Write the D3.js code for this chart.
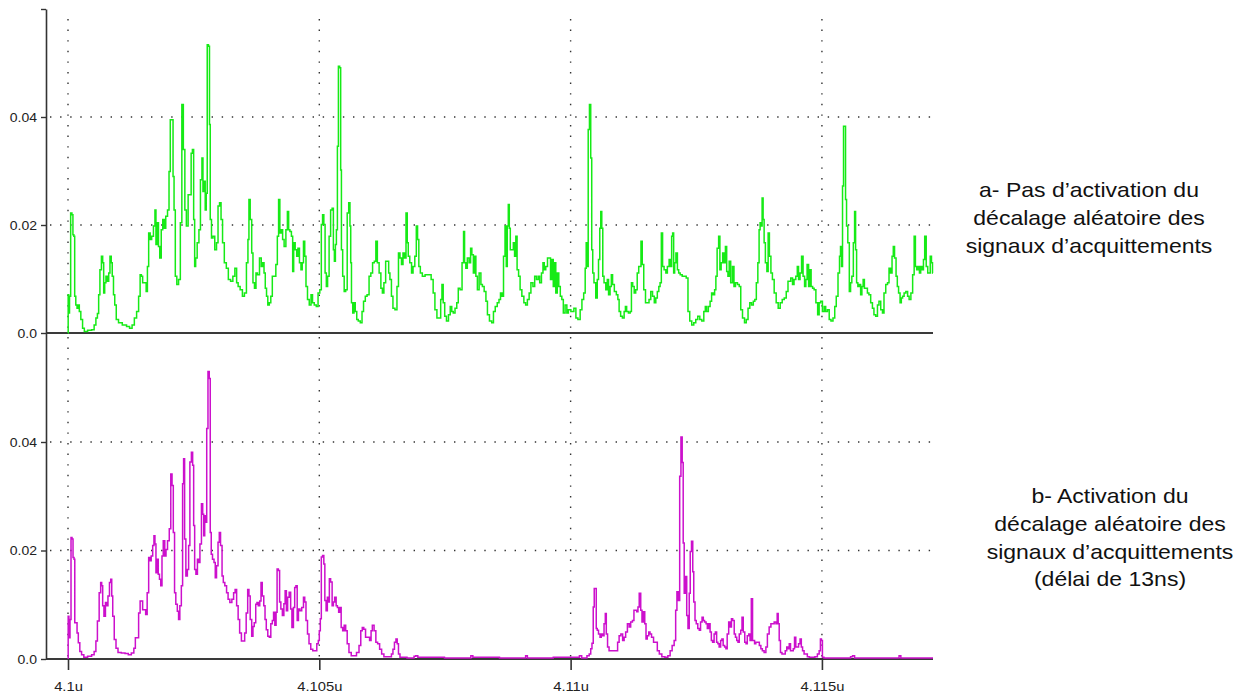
<!DOCTYPE html>
<html>
<head>
<meta charset="utf-8">
<script src="https://cdn.jsdelivr.net/npm/d3@7"></script>
<style>
  html, body { margin: 0; padding: 0; background: #fff; }
  svg { display: block; }
  .axis text { font-family: "Liberation Sans", Arial, Helvetica, sans-serif; font-size: 12.5px; fill: #222; }
  .caption text { font-family: "Liberation Sans", Arial, Helvetica, sans-serif; font-size: 20px; fill: #111; }
</style>
</head>
<body>
<svg id="chart" width="1241" height="696"></svg>
<script>
// Time window: starts at 4.1 µs, offsets of the samples are in ns
const T0 = 4.1e-6;
const SPAN_NS = 17.21;
const xTickValues = [4.1e-6, 4.105e-6, 4.11e-6, 4.115e-6];
const yTickValues = [0, 0.02, 0.04, 0.06];

// a- no random shift of the acknowledge signals: [ns after 4.1u, value]
const seriesA = [
  [0,0],[0.007,.0071],[0.02,.0037],[0.04,.0068],[0.066,.0222],[0.09,.0219],[0.106,.0182],[0.126,.0179],[0.14,.0068],
  [0.17,.0052],[0.19,.0046],[0.21,.0052],[0.24,.0040],[0.27,.0025],[0.31,.0009],[0.34,.0003],[0.44,.0005],[0.50,.0006],
  [0.54,.0015],[0.57,.0028],[0.60,.0036],[0.62,.0071],[0.65,.0117],[0.68,.0142],[0.70,.0130],[0.72,.0074],[0.74,.0093],
  [0.77,.0105],[0.80,.0096],[0.82,.0111],[0.85,.0142],[0.87,.0130],[0.89,.0105],[0.92,.0071],[0.94,.0052],[0.98,.0025],
  [1.03,.0019],[1.13,.0015],[1.20,.0012],[1.25,.0009],[1.30,.0015],[1.34,.0028],[1.39,.0040],[1.42,.0068],[1.45,.0108],
  [1.47,.0105],[1.50,.0093],[1.54,.0093],[1.57,.0077],[1.59,.0123],[1.62,.0185],[1.65,.0173],[1.68,.0179],[1.72,.0198],
  [1.74,.0228],[1.76,.0164],[1.79,.0204],[1.81,.0160],[1.84,.0139],[1.87,.0191],[1.90,.0210],[1.93,.0194],[1.96,.0216],
  [2.00,.0228],[2.02,.0299],[2.05,.0395],[2.08,.0395],[2.10,.0290],[2.12,.0228],[2.15,.0105],[2.18,.0090],[2.22,.0099],
  [2.25,.0204],[2.28,.0423],[2.31,.0340],[2.34,.0228],[2.37,.0198],[2.41,.0256],[2.44,.0256],[2.46,.0333],[2.49,.0340],
  [2.51,.0210],[2.53,.0123],[2.55,.0139],[2.59,.0167],[2.62,.0191],[2.65,.0284],[2.68,.0324],[2.69,.0262],[2.72,.0281],
  [2.74,.0228],[2.76,.0259],[2.78,.0534],[2.81,.0531],[2.82,.0386],[2.84,.0210],[2.87,.0176],[2.90,.0179],[2.94,.0154],
  [2.97,.0167],[3.00,.0235],[3.03,.0241],[3.06,.0210],[3.09,.0167],[3.13,.0130],[3.17,.0120],[3.21,.0099],[3.26,.0096],
  [3.30,.0105],[3.34,.0120],[3.37,.0093],[3.40,.0086],[3.45,.0080],[3.49,.0068],[3.53,.0074],[3.57,.0130],[3.59,.0173],
  [3.61,.0247],[3.64,.0210],[3.67,.0148],[3.69,.0093],[3.73,.0083],[3.75,.0111],[3.79,.0108],[3.83,.0139],[3.86,.0123],
  [3.89,.0130],[3.91,.0111],[3.94,.0083],[3.96,.0068],[3.99,.0052],[4.02,.0056],[4.05,.0068],[4.08,.0105],[4.12,.0105],
  [4.15,.0127],[4.18,.0179],[4.20,.0247],[4.23,.0185],[4.26,.0191],[4.28,.0173],[4.32,.0160],[4.35,.0191],[4.38,.0225],
  [4.40,.0191],[4.43,.0188],[4.46,.0179],[4.48,.0114],[4.50,.0167],[4.54,.0154],[4.56,.0142],[4.59,.0157],[4.62,.0130],
  [4.65,.0117],[4.67,.0130],[4.70,.0170],[4.72,.0142],[4.75,.0086],[4.78,.0062],[4.82,.0052],[4.85,.0071],[4.88,.0056],
  [4.92,.0052],[4.96,.0049],[4.99,.0074],[5.03,.0080],[5.05,.0201],[5.08,.0219],[5.10,.0201],[5.13,.0111],[5.15,.0086],
  [5.18,.0105],[5.21,.0179],[5.24,.0228],[5.27,.0231],[5.29,.0154],[5.31,.0133],[5.33,.0164],[5.35,.0191],[5.37,.0346],
  [5.39,.0494],[5.42,.0491],[5.43,.0302],[5.45,.0154],[5.48,.0105],[5.51,.0077],[5.54,.0080],[5.57,.0222],[5.60,.0241],
  [5.62,.0198],[5.63,.0130],[5.65,.0056],[5.68,.0037],[5.70,.0056],[5.73,.0040],[5.76,.0025],[5.79,.0022],[5.84,.0019],
  [5.86,.0040],[5.90,.0059],[5.93,.0068],[5.97,.0071],[6.01,.0105],[6.04,.0111],[6.08,.0130],[6.11,.0133],[6.14,.0170],
  [6.17,.0130],[6.21,.0111],[6.24,.0083],[6.27,.0074],[6.30,.0093],[6.34,.0133],[6.37,.0133],[6.39,.0111],[6.42,.0099],
  [6.45,.0068],[6.48,.0046],[6.53,.0043],[6.56,.0086],[6.59,.0148],[6.62,.0139],[6.65,.0127],[6.68,.0148],[6.71,.0139],
  [6.74,.0222],[6.76,.0167],[6.78,.0142],[6.82,.0130],[6.85,.0111],[6.88,.0123],[6.92,.0142],[6.94,.0198],[6.97,.0173],
  [6.99,.0123],[7.03,.0111],[7.07,.0105],[7.14,.0108],[7.20,.0108],[7.25,.0099],[7.28,.0074],[7.32,.0043],[7.36,.0028],
  [7.40,.0028],[7.43,.0062],[7.45,.0090],[7.48,.0056],[7.51,.0031],[7.55,.0022],[7.59,.0034],[7.62,.0049],[7.65,.0040],
  [7.68,.0037],[7.72,.0046],[7.75,.0056],[7.78,.0083],[7.82,.0080],[7.86,.0130],[7.88,.0188],[7.90,.0130],[7.93,.0120],
  [7.96,.0139],[8.00,.0130],[8.02,.0157],[8.05,.0145],[8.08,.0111],[8.10,.0142],[8.13,.0105],[8.16,.0080],[8.20,.0111],
  [8.23,.0090],[8.26,.0086],[8.30,.0077],[8.33,.0059],[8.36,.0034],[8.41,.0022],[8.45,.0019],[8.48,.0040],[8.52,.0049],
  [8.56,.0056],[8.59,.0062],[8.62,.0074],[8.65,.0068],[8.68,.0142],[8.71,.0198],[8.73,.0123],[8.75,.0198],[8.77,.0238],
  [8.79,.0194],[8.81,.0154],[8.85,.0154],[8.87,.0167],[8.90,.0142],[8.92,.0179],[8.95,.0117],[8.98,.0105],[9.01,.0080],
  [9.05,.0068],[9.09,.0056],[9.12,.0052],[9.16,.0062],[9.19,.0074],[9.23,.0093],[9.27,.0086],[9.30,.0105],[9.34,.0099],
  [9.37,.0105],[9.40,.0093],[9.44,.0111],[9.46,.0130],[9.49,.0117],[9.52,.0123],[9.56,.0139],[9.59,.0139],[9.61,.0099],
  [9.64,.0136],[9.67,.0086],[9.69,.0130],[9.72,.0074],[9.75,.0111],[9.78,.0086],[9.81,.0068],[9.84,.0062],[9.87,.0037],
  [9.91,.0052],[9.94,.0037],[9.97,.0043],[10.04,.0040],[10.09,.0046],[10.12,.0028],[10.17,.0025],[10.21,.0043],[10.24,.0062],
  [10.28,.0074],[10.30,.0120],[10.32,.0167],[10.34,.0123],[10.36,.0377],[10.39,.0423],[10.41,.0324],[10.43,.0154],[10.45,.0111],
  [10.48,.0093],[10.52,.0065],[10.54,.0099],[10.57,.0136],[10.59,.0194],[10.61,.0225],[10.63,.0194],[10.65,.0105],[10.68,.0093],
  [10.72,.0080],[10.74,.0099],[10.77,.0071],[10.80,.0086],[10.82,.0108],[10.85,.0090],[10.89,.0077],[10.93,.0071],[10.95,.0062],
  [10.98,.0040],[11.01,.0031],[11.05,.0028],[11.08,.0040],[11.10,.0049],[11.13,.0040],[11.17,.0037],[11.20,.0040],[11.22,.0093],
  [11.25,.0086],[11.28,.0074],[11.31,.0080],[11.34,.0111],[11.37,.0123],[11.39,.0123],[11.41,.0170],[11.44,.0127],[11.47,.0080],
  [11.51,.0056],[11.54,.0056],[11.58,.0062],[11.61,.0077],[11.65,.0068],[11.68,.0056],[11.71,.0065],[11.74,.0077],[11.77,.0086],
  [11.79,.0093],[11.82,.0185],[11.84,.0123],[11.88,.0117],[11.91,.0111],[11.94,.0123],[11.98,.0136],[12.00,.0123],[12.02,.0179],
  [12.04,.0185],[12.06,.0111],[12.08,.0130],[12.11,.0148],[12.14,.0117],[12.16,.0111],[12.20,.0108],[12.24,.0105],[12.28,.0105],
  [12.32,.0102],[12.35,.0040],[12.39,.0022],[12.43,.0015],[12.47,.0019],[12.51,.0025],[12.55,.0031],[12.59,.0025],[12.63,.0022],
  [12.67,.0040],[12.69,.0049],[12.72,.0040],[12.76,.0049],[12.79,.0059],[12.82,.0074],[12.85,.0071],[12.88,.0080],[12.90,.0105],
  [12.93,.0157],[12.96,.0179],[12.98,.0117],[13.01,.0130],[13.04,.0148],[13.07,.0130],[13.09,.0160],[13.12,.0114],[13.14,.0105],
  [13.17,.0133],[13.20,.0093],[13.24,.0123],[13.26,.0086],[13.30,.0093],[13.34,.0090],[13.37,.0086],[13.40,.0043],[13.44,.0028],
  [13.48,.0019],[13.51,.0025],[13.55,.0046],[13.58,.0056],[13.62,.0052],[13.65,.0059],[13.68,.0062],[13.71,.0093],[13.74,.0130],
  [13.76,.0191],[13.78,.0204],[13.80,.0198],[13.82,.0250],[13.84,.0210],[13.86,.0167],[13.89,.0130],[13.92,.0114],[13.94,.0185],
  [13.97,.0142],[14.00,.0111],[14.03,.0099],[14.07,.0074],[14.11,.0056],[14.15,.0046],[14.19,.0056],[14.23,.0062],[14.27,.0065],
  [14.31,.0077],[14.34,.0096],[14.36,.0096],[14.40,.0102],[14.43,.0090],[14.46,.0099],[14.50,.0105],[14.52,.0123],[14.55,.0099],
  [14.58,.0111],[14.61,.0142],[14.64,.0105],[14.67,.0086],[14.69,.0099],[14.72,.0127],[14.75,.0086],[14.77,.0117],[14.80,.0086],
  [14.83,.0083],[14.86,.0080],[14.90,.0056],[14.93,.0034],[14.96,.0056],[14.99,.0059],[15.03,.0040],[15.06,.0049],[15.09,.0040],
  [15.13,.0043],[15.16,.0025],[15.20,.0022],[15.24,.0028],[15.27,.0049],[15.30,.0068],[15.34,.0111],[15.36,.0142],[15.38,.0160],
  [15.40,.0123],[15.42,.0272],[15.44,.0383],[15.46,.0383],[15.48,.0247],[15.50,.0198],[15.53,.0167],[15.56,.0077],[15.58,.0093],
  [15.61,.0105],[15.64,.0167],[15.66,.0225],[15.68,.0154],[15.70,.0093],[15.73,.0086],[15.76,.0090],[15.78,.0071],[15.81,.0086],
  [15.83,.0099],[15.86,.0083],[15.89,.0083],[15.92,.0074],[15.95,.0071],[15.99,.0056],[16.02,.0046],[16.05,.0034],[16.09,.0031],
  [16.12,.0052],[16.15,.0059],[16.19,.0043],[16.22,.0037],[16.25,.0074],[16.29,.0090],[16.32,.0093],[16.35,.0120],[16.38,.0111],
  [16.41,.0142],[16.43,.0160],[16.46,.0139],[16.49,.0105],[16.51,.0086],[16.54,.0074],[16.57,.0056],[16.59,.0065],[16.62,.0068],
  [16.65,.0074],[16.69,.0077],[16.72,.0068],[16.75,.0062],[16.79,.0074],[16.82,.0108],[16.85,.0179],[16.87,.0123],[16.90,.0117],
  [16.93,.0123],[16.95,.0111],[16.98,.0123],[17.01,.0117],[17.03,.0136],[17.06,.0179],[17.09,.0123],[17.12,.0111],[17.14,.0111],
  [17.17,.0142],[17.19,.0130],[17.21,.0111]
];

// b- random shift enabled (13 ns delay): [ns after 4.1u, value]
const seriesB = [
  [0,0],[0.007,.0079],[0.03,.0039],[0.05,.0073],[0.07,.0224],[0.09,.0221],[0.11,.0187],[0.13,.0184],[0.14,.0067],
  [0.17,.0067],[0.19,.0048],[0.22,.0030],[0.25,.0014],[0.29,.0008],[0.34,.0003],[0.44,.0005],[0.50,.0008],[0.54,.0014],
  [0.57,.0033],[0.60,.0070],[0.64,.0122],[0.66,.0141],[0.68,.0135],[0.70,.0098],[0.73,.0079],[0.76,.0104],[0.78,.0098],
  [0.81,.0116],[0.84,.0141],[0.86,.0147],[0.88,.0116],[0.90,.0079],[0.94,.0036],[0.97,.0020],[1.02,.0012],[1.10,.0011],
  [1.17,.0010],[1.23,.0008],[1.29,.0011],[1.33,.0020],[1.35,.0039],[1.39,.0039],[1.42,.0085],[1.45,.0107],[1.47,.0107],
  [1.50,.0091],[1.53,.0091],[1.56,.0082],[1.59,.0122],[1.62,.0187],[1.64,.0181],[1.67,.0190],[1.70,.0209],[1.72,.0227],
  [1.74,.0212],[1.76,.0159],[1.78,.0184],[1.81,.0156],[1.83,.0147],[1.86,.0135],[1.88,.0190],[1.91,.0218],[1.94,.0190],
  [1.96,.0202],[2.00,.0218],[2.03,.0240],[2.06,.0341],[2.08,.0320],[2.11,.0233],[2.13,.0122],[2.16,.0101],[2.19,.0088],
  [2.21,.0073],[2.24,.0098],[2.27,.0135],[2.29,.0323],[2.31,.0369],[2.33,.0221],[2.36,.0153],[2.39,.0165],[2.41,.0209],
  [2.44,.0363],[2.47,.0381],[2.49,.0357],[2.51,.0246],[2.53,.0165],[2.56,.0156],[2.59,.0184],[2.61,.0178],[2.64,.0212],
  [2.67,.0286],[2.69,.0267],[2.71,.0227],[2.73,.0264],[2.75,.0252],[2.77,.0425],[2.80,.0530],[2.82,.0517],[2.84,.0233],
  [2.86,.0193],[2.89,.0184],[2.92,.0178],[2.94,.0150],[2.97,.0172],[3.00,.0215],[3.02,.0233],[3.05,.0209],[3.08,.0153],
  [3.10,.0141],[3.14,.0135],[3.17,.0122],[3.20,.0110],[3.24,.0104],[3.28,.0110],[3.31,.0122],[3.34,.0128],[3.37,.0098],
  [3.40,.0073],[3.43,.0048],[3.47,.0033],[3.50,.0033],[3.53,.0048],[3.56,.0085],[3.59,.0128],[3.61,.0116],[3.64,.0073],
  [3.67,.0042],[3.69,.0060],[3.72,.0067],[3.75,.0101],[3.77,.0104],[3.80,.0098],[3.83,.0107],[3.85,.0141],[3.88,.0116],
  [3.91,.0098],[3.93,.0073],[3.96,.0054],[3.99,.0042],[4.02,.0040],[4.05,.0065],[4.08,.0071],[4.10,.0086],[4.13,.0062],
  [4.15,.0086],[4.17,.0166],[4.20,.0163],[4.22,.0105],[4.25,.0092],[4.28,.0080],[4.31,.0102],[4.33,.0126],[4.36,.0089],
  [4.38,.0114],[4.42,.0123],[4.44,.0092],[4.47,.0058],[4.50,.0095],[4.52,.0132],[4.55,.0135],[4.57,.0071],[4.60,.0092],
  [4.63,.0089],[4.67,.0095],[4.70,.0114],[4.72,.0105],[4.75,.0071],[4.78,.0046],[4.81,.0028],[4.85,.0018],[4.89,.0015],
  [4.93,.0015],[4.97,.0028],[4.99,.0034],[5.01,.0052],[5.03,.0074],[5.05,.0188],[5.08,.0191],[5.10,.0175],[5.12,.0108],
  [5.15,.0089],[5.17,.0114],[5.19,.0105],[5.21,.0148],[5.24,.0142],[5.27,.0098],[5.29,.0105],[5.32,.0114],[5.35,.0098],
  [5.37,.0095],[5.40,.0086],[5.42,.0095],[5.45,.0058],[5.48,.0052],[5.51,.0062],[5.54,.0052],[5.57,.0028],[5.61,.0012],
  [5.66,.0006],[5.71,.0006],[5.77,.0012],[5.81,.0025],[5.84,.0052],[5.87,.0058],[5.90,.0055],[5.94,.0040],[5.98,.0040],
  [6.02,.0034],[6.04,.0052],[6.07,.0062],[6.11,.0052],[6.14,.0031],[6.18,.0028],[6.22,.0018],[6.26,.0009],[6.31,.0004],
  [6.37,.0004],[6.42,.0004],[6.45,.0009],[6.48,.0018],[6.51,.0031],[6.54,.0037],[6.56,.0028],[6.59,.0009],[6.62,.0003],
  [6.87,.0002],[6.90,.0005],[6.94,.0006],[6.98,.0003],[8.00,.0002],[8.03,.0006],[8.08,.0003],[9.09,.0002],[9.12,.0006],
  [9.16,.0002],[10.15,.0003],[10.20,.0006],[10.24,.0002],[10.30,.0002],[10.35,.0006],[10.39,.0009],[10.41,.0019],[10.44,.0029],
  [10.46,.0096],[10.48,.0130],[10.50,.0130],[10.52,.0056],[10.54,.0053],[10.57,.0046],[10.60,.0040],[10.62,.0046],[10.65,.0043],
  [10.68,.0065],[10.70,.0084],[10.72,.0046],[10.75,.0022],[10.78,.0015],[10.92,.0015],[10.95,.0031],[10.98,.0043],[11.02,.0046],
  [11.05,.0034],[11.08,.0040],[11.11,.0050],[11.15,.0065],[11.18,.0059],[11.21,.0068],[11.25,.0071],[11.27,.0090],[11.30,.0090],
  [11.33,.0087],[11.35,.0096],[11.38,.0121],[11.41,.0090],[11.43,.0068],[11.46,.0087],[11.49,.0065],[11.51,.0037],[11.54,.0043],
  [11.57,.0050],[11.59,.0046],[11.63,.0040],[11.67,.0031],[11.71,.0031],[11.74,.0015],[11.79,.0009],[11.84,.0004],[11.91,.0003],
  [11.96,.0006],[12.00,.0015],[12.04,.0025],[12.08,.0034],[12.10,.0090],[12.13,.0124],[12.16,.0108],[12.18,.0337],[12.21,.0409],
  [12.23,.0362],[12.25,.0214],[12.27,.0121],[12.30,.0152],[12.32,.0080],[12.35,.0056],[12.37,.0121],[12.39,.0198],[12.42,.0217],
  [12.44,.0161],[12.46,.0105],[12.49,.0071],[12.51,.0065],[12.55,.0056],[12.57,.0053],[12.60,.0068],[12.63,.0077],[12.65,.0071],
  [12.68,.0068],[12.71,.0065],[12.73,.0056],[12.76,.0065],[12.79,.0050],[12.81,.0034],[12.84,.0031],[12.87,.0046],[12.89,.0050],
  [12.92,.0031],[12.94,.0028],[12.97,.0022],[13.00,.0034],[13.02,.0037],[13.05,.0025],[13.08,.0022],[13.10,.0019],[13.13,.0046],
  [13.16,.0068],[13.19,.0059],[13.21,.0074],[13.24,.0071],[13.27,.0046],[13.29,.0040],[13.32,.0034],[13.34,.0031],[13.37,.0046],
  [13.40,.0053],[13.42,.0077],[13.45,.0050],[13.48,.0031],[13.50,.0028],[13.53,.0043],[13.56,.0046],[13.58,.0034],[13.61,.0111],
  [13.63,.0034],[13.65,.0034],[13.67,.0028],[13.70,.0031],[13.74,.0031],[13.77,.0025],[13.80,.0019],[13.83,.0015],[13.87,.0012],
  [13.90,.0022],[13.93,.0046],[13.97,.0059],[14.00,.0065],[14.03,.0065],[14.07,.0068],[14.10,.0065],[14.12,.0084],[14.14,.0065],
  [14.16,.0034],[14.19,.0012],[14.22,.0009],[14.25,.0009],[14.29,.0015],[14.31,.0022],[14.34,.0019],[14.36,.0028],[14.39,.0015],
  [14.42,.0015],[14.44,.0019],[14.47,.0040],[14.49,.0022],[14.52,.0022],[14.55,.0028],[14.58,.0037],[14.60,.0022],[14.63,.0015],
  [14.66,.0009],[14.69,.0009],[14.73,.0004],[14.77,.0003],[14.83,.0003],[14.89,.0004],[14.93,.0009],[14.96,.0015],[14.98,.0037],
  [15.00,.0034],[15.02,.0003],[15.06,.0002],[15.55,.0002],[15.59,.0004],[15.63,.0006],[15.67,.0002],[16.52,.0002],[16.55,.0006],
  [16.59,.0002],[17.21,.0002]
];

const captionA = ["a- Pas d\u2019activation du", "d\u00e9calage al\u00e9atoire des", "signaux d\u2019acquittements"];
const captionB = ["b- Activation du", "d\u00e9calage al\u00e9atoire des", "signaux d\u2019acquittements", "(d\u00e9lai de 13ns)"];

const svg = d3.select("#chart");
svg.append("rect").attr("width", 1241).attr("height", 696).attr("fill", "#fff");

const axisX = 46;      // left vertical axis
const plotRight = 933;

const x = d3.scaleLinear().domain([T0, T0 + SPAN_NS * 1e-9]).range([68, plotRight]);
const yA = d3.scaleLinear().domain([0, 0.06]).range([333, 9]);
const yB = d3.scaleLinear().domain([0, 0.06]).range([659, 333.5]);
const tSec = ns => T0 + ns * 1e-9;

const fmtY = v => v === 0 ? "0.0" : (v >= 0.06 ? "" : v.toFixed(2));
const fmtX = v => (+(v * 1e6).toFixed(3)) + "u";

// dotted grid
const grid = svg.append("g").attr("stroke", "#333").attr("stroke-width", 1.4);
[yA, yB].forEach(y => {
  grid.selectAll(null)
    .data(yTickValues.filter(v => v > 0 && v < 0.06))
    .join("line")
    .attr("x1", axisX + 4).attr("x2", plotRight)
    .attr("y1", d => y(d)).attr("y2", d => y(d))
    .attr("stroke-dasharray", "1.4 8.7");
});
grid.selectAll(null)
  .data(xTickValues)
  .join("line")
  .attr("x1", d => x(d)).attr("x2", d => x(d))
  .attr("y1", yA(0.06) + 10).attr("y2", yB(0))
  .attr("stroke-dasharray", "1.4 9.2");

// traces: sample-and-hold look of the simulator output
const lineA = d3.line().curve(d3.curveStep).x(d => x(tSec(d[0]))).y(d => yA(d[1]));
const lineB = d3.line().curve(d3.curveStep).x(d => x(tSec(d[0]))).y(d => yB(d[1]));

// baselines of each panel
svg.append("g").attr("stroke", "#3a3a3a").attr("stroke-width", 2)
  .selectAll("line").data([yA(0), yB(0)]).join("line")
  .attr("x1", axisX).attr("x2", plotRight).attr("y1", d => d).attr("y2", d => d);

svg.append("path").datum(seriesA)
  .attr("d", lineA).attr("fill", "none")
  .attr("stroke", "#16ea16").attr("stroke-width", 1.5).attr("stroke-linejoin", "miter");
svg.append("path").datum(seriesB)
  .attr("d", lineB).attr("fill", "none")
  .attr("stroke", "#cc10cc").attr("stroke-width", 1.5).attr("stroke-linejoin", "miter");

// left axes
const leftA = d3.axisLeft(yA).tickValues(yTickValues).tickFormat(fmtY).tickSize(5).tickSizeOuter(0).tickPadding(3);
const leftB = d3.axisLeft(yB).tickValues(yTickValues.filter(v => v < 0.06)).tickFormat(fmtY).tickSize(5).tickSizeOuter(0).tickPadding(3);
[leftA, leftB].forEach(ax => {
  const g = svg.append("g").attr("class", "axis").attr("transform", `translate(${axisX},0)`).call(ax);
  g.select(".domain").attr("stroke", "#333").attr("stroke-width", 1.6);
  g.selectAll(".tick line").attr("stroke", "#333").attr("stroke-width", 1.4);
  g.selectAll(".tick text").attr("transform", "scale(1.12,1)");
});

// bottom time axis
const bottom = d3.axisBottom(x).tickValues(xTickValues).tickFormat(fmtX).tickSize(11).tickSizeOuter(0).tickPadding(12);
const gx = svg.append("g").attr("class", "axis").attr("transform", `translate(0,${yB(0)})`).call(bottom);
gx.select(".domain").remove();
gx.selectAll(".tick line").attr("stroke", "#333").attr("stroke-width", 1.6);
gx.selectAll(".tick text").attr("transform", "scale(1.18,1)");

// captions on the right
function caption(lines, cx, firstBaseline) {
  const g = svg.append("g").attr("class", "caption").attr("transform", `translate(${cx},0) scale(1.15,1)`);
  g.selectAll("text").data(lines).join("text")
    .attr("x", 0).attr("y", (d, i) => firstBaseline + i * 27.8)
    .attr("text-anchor", "middle").text(d => d);
}
caption(captionA, 1089, 197);
caption(captionB, 1110, 503);
</script>
</body>
</html>
